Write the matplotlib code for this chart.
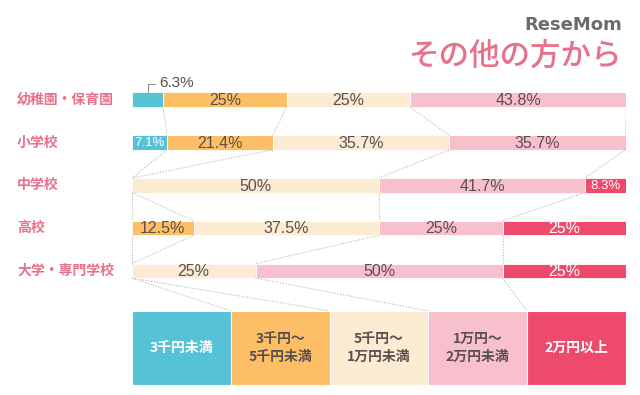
import matplotlib.pyplot as plt
import numpy as np

# data
schools = ['幼稚園・保育園', '小学校', '中学校', '高校', '大学・専門学校']
categories = ['3千円未満', '3千円～\n5千円未満', '5千円～\n1万円未満', '1万円～\n2万円未満', '2万円以上']
under_3k = [6.3, 7.1, 0, 0, 0]
from_3k_5k = [25, 21.4, 0, 12.5, 0]
from_5k_10k = [25, 35.7, 50, 37.5, 25]
from_10k_20k = [43.8, 35.7, 41.7, 25, 50]
over_20k = [0, 0, 8.3, 25, 25]
legend_share = [20, 20, 20, 20, 20]

colors = ['#56C2D6', '#FDBF65', '#FBEBD3', '#F8BFCC', '#EE4A6B']
text_colors = ['white', '#5b4f4f', '#5b4f4f', '#5b4f4f', 'white']
pink = '#E8718A'

series = np.array([under_3k, from_3k_5k, from_5k_10k, from_10k_20k, over_20k])
n_rows = len(schools)
bar_h = 0.34
legend_y = 5.80
legend_h = 1.73

plt.rcParams['font.family'] = ['Noto Sans CJK JP', 'DejaVu Sans']
num_font = ['Liberation Sans', 'DejaVu Sans']

fig = plt.figure(figsize=(6.4, 3.95), dpi=100)
ax = fig.add_axes([132 / 640, 0, 494 / 640, 1])
ax.set_xlim(0, 100)
ax.set_ylim(6.9, -2.33)
ax.axis('off')

y = np.arange(n_rows)
cum = np.zeros(n_rows)
lefts = []
for k in range(len(categories)):
    vals = series[k]
    ax.barh(y, vals, left=cum, height=bar_h, color=colors[k],
            edgecolor='white', linewidth=0.6)
    for i in range(n_rows):
        v = vals[i]
        if v <= 0:
            continue
        label = f'{v:g}%'
        if i == 0 and k == 0:
            # small slice: label sits above with a leader line
            mid = cum[i] + v / 2
            ax.plot([mid, mid, mid + 1.5], [-bar_h / 2, -0.37, -0.37],
                    color='#8a8a8a', lw=0.7)
            ax.text(mid + 2.3, -0.40, label, ha='left', va='center',
                    fontsize=11, color='#5b4f4f', family=num_font)
            continue
        size = 11.5 if v > 10 else 9.5
        ax.text(cum[i] + v / 2, i + 0.02, label, ha='center', va='center',
                fontsize=size, color=text_colors[k], family=num_font)
    cum = cum + vals
    lefts.append(cum.copy())

# legend boxes as one more bar row
leg_left = np.cumsum([0] + legend_share[:-1])
ax.barh([legend_y] * len(categories), legend_share, left=leg_left,
        height=legend_h, color=colors, edgecolor='white', linewidth=0.8)
for k, cat in enumerate(categories):
    ax.text(leg_left[k] + legend_share[k] / 2, legend_y, cat, ha='center',
            va='center', fontsize=10, fontweight='bold', color=text_colors[k],
            linespacing=1.4)

# dotted connectors between segment boundaries
leg_bounds = np.cumsum(legend_share)
for k in range(len(categories) - 1):
    for i in range(n_rows - 1):
        ax.plot([lefts[k][i], lefts[k][i + 1]],
                [i + bar_h / 2, i + 1 - bar_h / 2],
                ls=(0, (1, 1.5)), color='#b5b5b5', lw=0.8)
    ax.plot([lefts[k][-1], leg_bounds[k]],
            [n_rows - 1 + bar_h / 2, legend_y - legend_h / 2],
            ls=(0, (1, 1.5)), color='#b5b5b5', lw=0.8)

# row labels
for i, s in enumerate(schools):
    fig.text(17 / 640, 1 - (99.7 + 42.8 * i) / 395, s, ha='left', va='center',
             fontsize=10, fontweight='bold', color=pink)

fig.text(622 / 640, 1 - 56 / 395, 'その他の方から', ha='right', va='center',
         fontsize=22, fontweight='medium', color=pink)
fig.text(622 / 640, 1 - 25 / 395, 'ReseMom', ha='right', va='center',
         fontsize=13, fontweight='bold', color='#6b6b6b', family='DejaVu Sans')

fig.savefig('out.png', dpi=100)
